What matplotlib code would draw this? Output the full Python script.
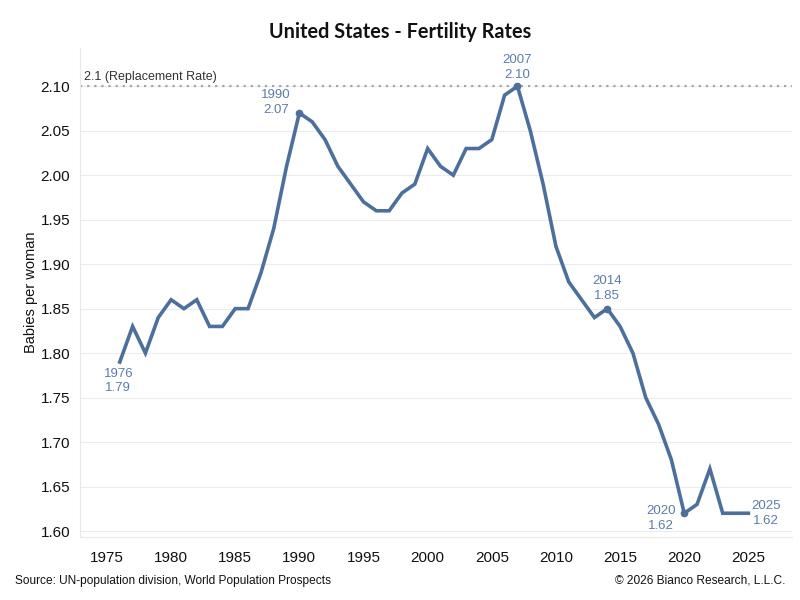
import matplotlib
matplotlib.use("Agg")
import matplotlib.pyplot as plt

years = list(range(1976, 2026))
rates = [1.79, 1.83, 1.80, 1.84, 1.86, 1.85, 1.86, 1.83, 1.83, 1.85,
         1.85, 1.89, 1.94, 2.01, 2.07, 2.06, 2.04, 2.01, 1.99, 1.97,
         1.96, 1.96, 1.98, 1.99, 2.03, 2.01, 2.00, 2.03, 2.03, 2.04,
         2.09, 2.10, 2.05, 1.99, 1.92, 1.88, 1.86, 1.84, 1.85, 1.83,
         1.80, 1.75, 1.72, 1.68, 1.62, 1.63, 1.67, 1.62, 1.62, 1.62]

replacement = 2.1
marked_years = [1990, 2007, 2014, 2020]
yticks = [1.60, 1.65, 1.70, 1.75, 1.80, 1.85, 1.90, 1.95, 2.00, 2.05, 2.10]
xticks = [1975, 1980, 1985, 1990, 1995, 2000, 2005, 2010, 2015, 2020, 2025]

line_col = "#4d6f9c"
lab_col = "#5b7cab"
grid_col = "#ececec"

plt.rcParams["font.family"] = ["Liberation Sans", "DejaVu Sans"]

fig = plt.figure(figsize=(8, 6), dpi=100)
ax = fig.add_axes([0.1, 0.105, 0.89, 0.815])

ax.set_xlim(1972.9, 2028.4)
ax.set_ylim(1.5933, 2.143)

ax.set_yticks(yticks)
ax.set_yticklabels([f"{v:.2f}" for v in yticks])
ax.set_xticks(xticks)
ax.grid(axis="y", color=grid_col, linewidth=0.8)
ax.set_axisbelow(True)
ax.tick_params(length=0, labelsize=11, colors="#111111")
ax.tick_params(axis="x", pad=10)
ax.tick_params(axis="y", pad=7)
for side in ["top", "right"]:
    ax.spines[side].set_visible(False)
for side in ["left", "bottom"]:
    ax.spines[side].set_color("#e8e8e8")
    ax.spines[side].set_linewidth(0.8)

ax.axhline(replacement, color="#a6a6a6", linestyle=(0, (1, 2.2)), linewidth=1.6, zorder=1)
ax.text(1973.2, replacement + 0.004, "2.1 (Replacement Rate)", fontsize=9,
        color="#333333", va="bottom", ha="left")

ax.plot(years, rates, color=line_col, linewidth=2.6, zorder=3,
        solid_joinstyle="miter")

mx = [y for y in marked_years]
my = [rates[years.index(y)] for y in marked_years]
ax.plot(mx, my, "o", color=line_col, markersize=4.5, zorder=4)


def lab(year, ha, va, dx, dy):
    v = rates[years.index(year)]
    ax.annotate(f"{year}\n{v:.2f}", (year, v), xytext=(dx, dy),
                textcoords="offset points", ha=ha, va=va, fontsize=9.5,
                color=lab_col, linespacing=1.3, multialignment="center")


lab(1976, "center", "top", -1, -4)
lab(1990, "right", "bottom", -6, -2)
lab(2007, "center", "bottom", 0, 4)
lab(2014, "center", "bottom", 0, 5)
lab(2020, "right", "center", -6, -4)
lab(2025, "left", "center", 2, 0)

ax.set_ylabel("Babies per woman", fontsize=10.5, color="#111111", labelpad=2)

fig.text(0.5, 0.947, "United States - Fertility Rates", ha="center", va="center",
         fontsize=14.3, fontweight="bold", family=["Lato", "DejaVu Sans"], color="#111111")
fig.text(0.019, 0.032, "Source: UN-population division, World Population Prospects",
         fontsize=8.6, color="#111111", ha="left", va="center")
fig.text(0.982, 0.032, "\u00a9 2026 Bianco Research, L.L.C.",
         fontsize=8.6, color="#111111", ha="right", va="center")

fig.savefig("out.png", dpi=100)
